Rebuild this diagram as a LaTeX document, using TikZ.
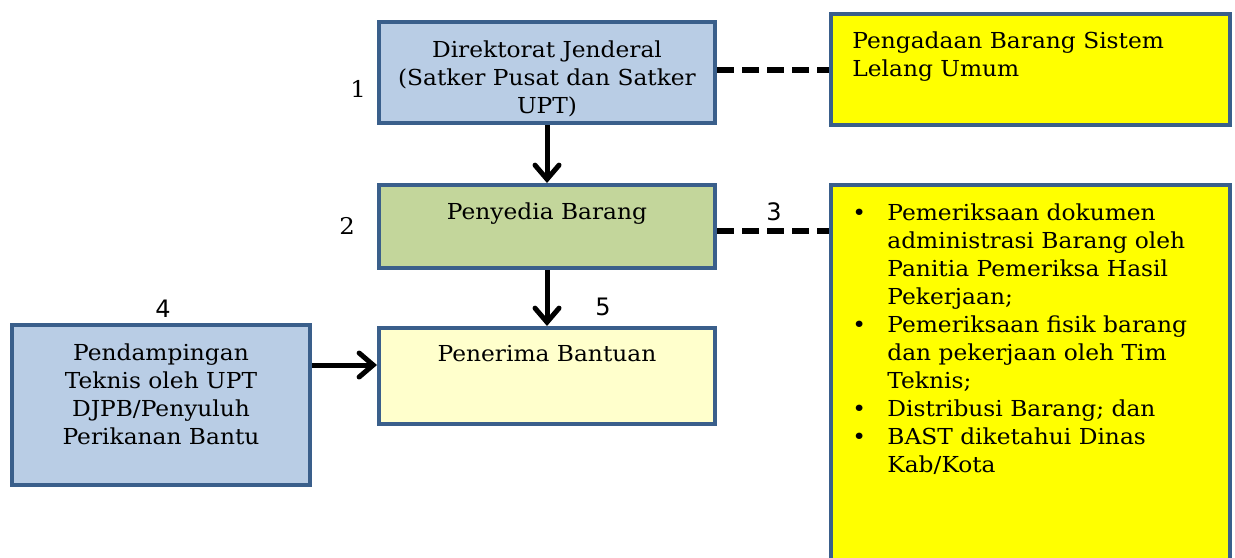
\documentclass[tikz,border=0pt]{standalone}
\usepackage{fontspec}
\setmainfont[FakeStretch=1.06]{DejaVu Serif}
\newfontfamily\numfont{DejaVu Sans}
\usetikzlibrary{arrows.meta}
\definecolor{boxline}{HTML}{3A5F8B}
\definecolor{bluefill}{HTML}{B9CDE5}
\definecolor{greenfill}{HTML}{C3D69B}
\definecolor{paleyellow}{HTML}{FFFFCC}
\definecolor{brightyellow}{HTML}{FFFF00}

\begin{document}
\begin{tikzpicture}[
  x=0.5pt, y=-0.5pt,
  font=\fontsize{11}{14}\selectfont,
  every node/.style={inner sep=0pt},
  box/.style={draw=boxline,line width=2pt},
  txt/.style={anchor=north,align=center},
  num/.style={font=\fontsize{11.5}{14}\selectfont},
  snum/.style={font=\numfont\fontsize{12}{14}\selectfont},
  arr/.style={line width=2.5pt,-{Straight Barb[length=7pt,width=12pt,line cap=round]}},
  dash line/.style={line width=3pt,dash pattern=on 8.5pt off 4pt},
  ]
  \useasboundingbox (0,0) rectangle (1235,557);

  \node[box,fill=bluefill,minimum width=168pt,minimum height=50.5pt] (dirjen) at (547,72.5) {};
  \node[box,fill=brightyellow,minimum width=199.5pt,minimum height=55.5pt] (lelang) at (1030.5,69.5) {};
  \node[box,fill=greenfill,minimum width=168pt,minimum height=41.5pt] (penyedia) at (547,226.5) {};
  \node[box,fill=brightyellow,minimum width=199.5pt,minimum height=207.5pt] (periksa) at (1030.5,392.5) {};
  \node[box,fill=paleyellow,minimum width=168pt,minimum height=48pt] (penerima) at (547,376) {};
  \node[box,fill=bluefill,minimum width=149pt,minimum height=80pt] (pendamping) at (161,405) {};

  \node[txt] (dirjen-t) at (547,40) {Direktorat Jenderal\\(Satker Pusat dan Satker\\UPT)};
  \node[txt,anchor=north west,align=left] (lelang-t) at (852,31) {Pengadaan Barang Sistem\\Lelang Umum};
  \node[txt] (penyedia-t) at (547,202) {Penyedia Barang};
  \node[txt,anchor=north west] (periksa-t) at (852,200) {%
    \begin{tabular}{@{}l@{}l@{}}
      \makebox[17.5pt][l]{\textbullet} & Pemeriksaan dokumen\\
      & administrasi Barang oleh\\
      & Panitia Pemeriksa Hasil\\
      & Pekerjaan;\\
      \makebox[17.5pt][l]{\textbullet} & Pemeriksaan fisik barang\\
      & dan pekerjaan oleh Tim\\
      & Teknis;\\
      \makebox[17.5pt][l]{\textbullet} & Distribusi Barang; dan\\
      \makebox[17.5pt][l]{\textbullet} & BAST diketahui Dinas\\
      & Kab/Kota
    \end{tabular}};
  \node[txt] (penerima-t) at (547,345) {Penerima Bantuan};
  \node[txt] (pendamping-t) at (161,343) {Pendampingan\\Teknis oleh UPT\\DJPB/Penyuluh\\Perikanan Bantu};

  \node[num] (n1) at (358,89) {1};
  \node[num] (n2) at (347,226) {2};
  \node[snum] (n3) at (774,212) {3};
  \node[snum] (n4) at (163,309) {4};
  \node[snum] (n5) at (603,307) {5};

  \draw[arr] (dirjen) -- (penyedia);
  \draw[arr] (penyedia) -- (penerima);
  \draw[arr] ([yshift=20pt]pendamping.east) -- ([yshift=5.5pt]penerima.west);
  \draw[dash line] (lelang.west -| dirjen.east) -- (lelang.west);
  \draw[dash line] ([yshift=-2pt]penyedia.east) -- ([yshift=-2pt]penyedia.east -| periksa.west);
\end{tikzpicture}
\end{document}
